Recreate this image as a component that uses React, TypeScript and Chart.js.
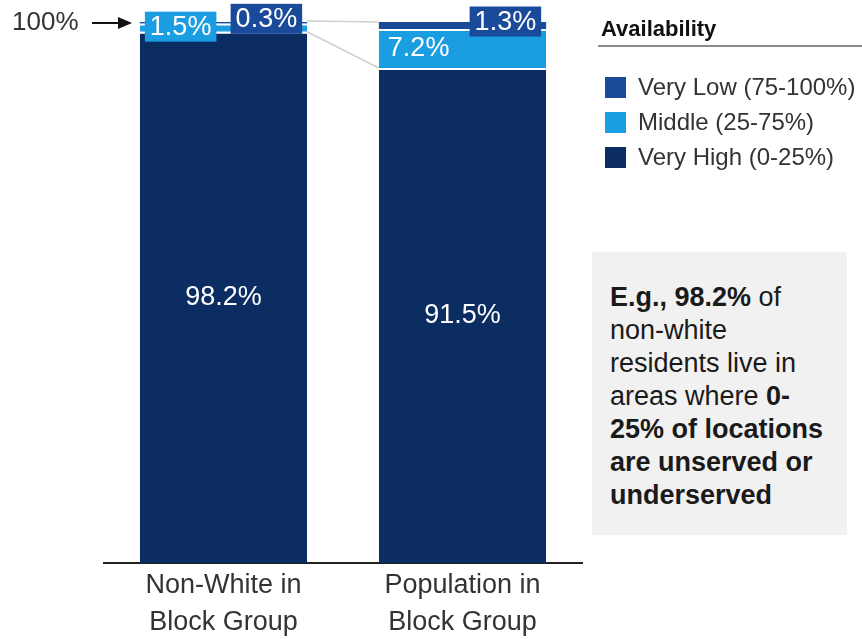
import React, { useEffect, useRef } from "react";
import { Chart, registerables } from "chart.js";

Chart.register(...registerables);

// ---------- data ----------
const categories = [
  ["Non-White in", "Block Group"],
  ["Population in", "Block Group"],
];
const seriesNames = ["Very High (0-25%)", "Middle (25-75%)", "Very Low (75-100%)"];
const veryHigh = [98.2, 91.5];
const middle = [1.5, 7.2];
const veryLow = [0.3, 1.3];
const legendTitle = "Availability";
const legendOrder = [2, 1, 0]; // indices into seriesNames
const markerValue = 100;

// ---------- styles ----------
const COLORS = ["#0b2d62", "#1b9de2", "#1a4b9b"];
const FONT = '"Liberation Sans", Arial, Helvetica, sans-serif';
const fmt = (v: number) => v.toFixed(1) + "%";

const overlayPlugin = {
  id: "overlay",
  afterDatasetsDraw(chart: any) {
    const ctx = chart.ctx;
    const m0 = chart.getDatasetMeta(0).data;
    const m2 = chart.getDatasetMeta(2).data;
    const yScale = chart.scales.y;

    ctx.save();
    // connector lines between the bars
    ctx.strokeStyle = "#cfcfcf";
    ctx.lineWidth = 1.5;
    const a0 = m0[0], b0 = m0[1], a2 = m2[0], b2 = m2[1];
    ctx.beginPath();
    ctx.moveTo(a2.x + a2.width / 2, a2.y - 1);
    ctx.lineTo(b2.x - b2.width / 2, b2.y);
    ctx.moveTo(a0.x + a0.width / 2, a0.y);
    ctx.lineTo(b0.x - b0.width / 2, b0.y);
    ctx.stroke();

    // data labels
    ctx.font = `27px ${FONT}`;
    ctx.textBaseline = "middle";
    const datasets = chart.data.datasets;
    datasets.forEach((ds: any, di: number) => {
      const meta = chart.getDatasetMeta(di).data;
      meta.forEach((el: any, i: number) => {
        const v = ds.data[i];
        const txt = fmt(v);
        const left = el.x - el.width / 2;
        const right = el.x + el.width / 2;
        const top = Math.min(el.y, el.base);
        const bot = Math.max(el.y, el.base);
        const h = bot - top;
        const cy = (top + bot) / 2;
        if (di === 0) {
          ctx.fillStyle = "#ffffff";
          ctx.textAlign = "center";
          ctx.fillText(txt, el.x, cy);
        } else if (h >= 30) {
          ctx.fillStyle = "#ffffff";
          ctx.textAlign = "left";
          ctx.fillText(txt, left + 9, cy);
        } else {
          const tw = ctx.measureText(txt).width;
          const bw = tw + 10;
          const bh = 30;
          const bx = di === 1 ? left + 5 : right - 5 - bw;
          const by = (di === 1 ? cy - 1 : cy - 4) - bh / 2;
          ctx.fillStyle = ds.backgroundColor;
          ctx.fillRect(bx, by, bw, bh);
          ctx.fillStyle = "#ffffff";
          ctx.textAlign = "center";
          ctx.fillText(txt, bx + bw / 2, by + bh / 2 + 1);
        }
      });
    });

    // "100% ->" marker
    const my = yScale.getPixelForValue(markerValue) + 1;
    ctx.font = `26px ${FONT}`;
    ctx.fillStyle = "#333333";
    ctx.textAlign = "left";
    ctx.fillText(markerValue + "%", 12, my);
    ctx.strokeStyle = "#111111";
    ctx.lineWidth = 2;
    ctx.beginPath();
    ctx.moveTo(92, my);
    ctx.lineTo(122, my);
    ctx.stroke();
    ctx.fillStyle = "#111111";
    ctx.beginPath();
    ctx.moveTo(132, my);
    ctx.lineTo(118, my - 6);
    ctx.lineTo(118, my + 6);
    ctx.closePath();
    ctx.fill();
    ctx.restore();
  },
};

export default function App() {
  const ref = useRef<HTMLCanvasElement | null>(null);

  useEffect(() => {
    if (!ref.current) return;
    const series = [veryHigh, middle, veryLow];
    const chart = new Chart(ref.current, {
      type: "bar",
      data: {
        labels: categories,
        datasets: series.map((d, i) => ({
          label: seriesNames[i],
          data: d,
          backgroundColor: COLORS[i],
          borderColor: "#ffffff",
          borderWidth: i === 2 ? 0 : { top: 2, left: 0, right: 0, bottom: 0 },
          borderSkipped: "start",
          barPercentage: 0.7,
          categoryPercentage: 1,
        })),
      },
      options: {
        animation: false,
        responsive: false,
        devicePixelRatio: 1,
        layout: { padding: { left: 104, right: 280, top: 22, bottom: 0 } },
        plugins: {
          legend: { display: false },
          tooltip: { enabled: false },
          title: { display: false },
        },
        scales: {
          x: {
            stacked: true,
            offset: true,
            grid: { display: false },
            border: { display: true, color: "#222222", width: 2 },
            ticks: {
              color: "#333333",
              padding: -4,
              font: { family: FONT, size: 27, lineHeight: 37 / 27 },
            },
            afterFit: (scale: any) => {
              scale.height = 76;
            },
          },
          y: {
            stacked: true,
            display: false,
            min: 0,
            max: 100,
          },
        },
      },
      plugins: [overlayPlugin],
    } as any);
    return () => chart.destroy();
  }, []);

  const rowCenters = [87, 122, 157];

  return (
    <div
      style={{
        position: "fixed",
        left: 0,
        top: 0,
        width: 862,
        height: 639,
        background: "#ffffff",
        overflow: "hidden",
        fontFamily: FONT,
      }}
    >
      <canvas ref={ref} width={862} height={639} style={{ position: "absolute", left: 0, top: 0 }} />

      {/* legend */}
      <div
        style={{
          position: "absolute",
          left: 601,
          top: 14,
          fontSize: 22,
          fontWeight: "bold",
          color: "#111",
          lineHeight: "30px",
        }}
      >
        {legendTitle}
      </div>
      <div style={{ position: "absolute", left: 598, top: 45, width: 264, height: 2, background: "#8a8a8a" }} />
      {legendOrder.map((si, k) => (
        <div
          key={si}
          style={{
            position: "absolute",
            left: 605,
            top: rowCenters[k] - 15,
            height: 30,
            display: "flex",
            alignItems: "center",
          }}
        >
          <div style={{ width: 21, height: 21, background: COLORS[si], marginRight: 12 }} />
          <div style={{ fontSize: 24, color: "#333", lineHeight: "30px", whiteSpace: "nowrap" }}>{seriesNames[si]}</div>
        </div>
      ))}

      {/* annotation box */}
      <div
        style={{
          position: "absolute",
          left: 592,
          top: 252,
          width: 255,
          height: 283,
          background: "#f1f1f1",
        }}
      />
      <div
        style={{
          position: "absolute",
          left: 610,
          top: 281,
          fontSize: 27,
          lineHeight: "33px",
          color: "#1a1a1a",
          whiteSpace: "nowrap",
        }}
      >
        <div>
          <b>E.g., {fmt(veryHigh[0])}</b> of
        </div>
        <div>non-white</div>
        <div>residents live in</div>
        <div>
          areas where <b>0-</b>
        </div>
        <div>
          <b>25% of locations</b>
        </div>
        <div>
          <b>are unserved or</b>
        </div>
        <div>
          <b>underserved</b>
        </div>
      </div>
    </div>
  );
}
